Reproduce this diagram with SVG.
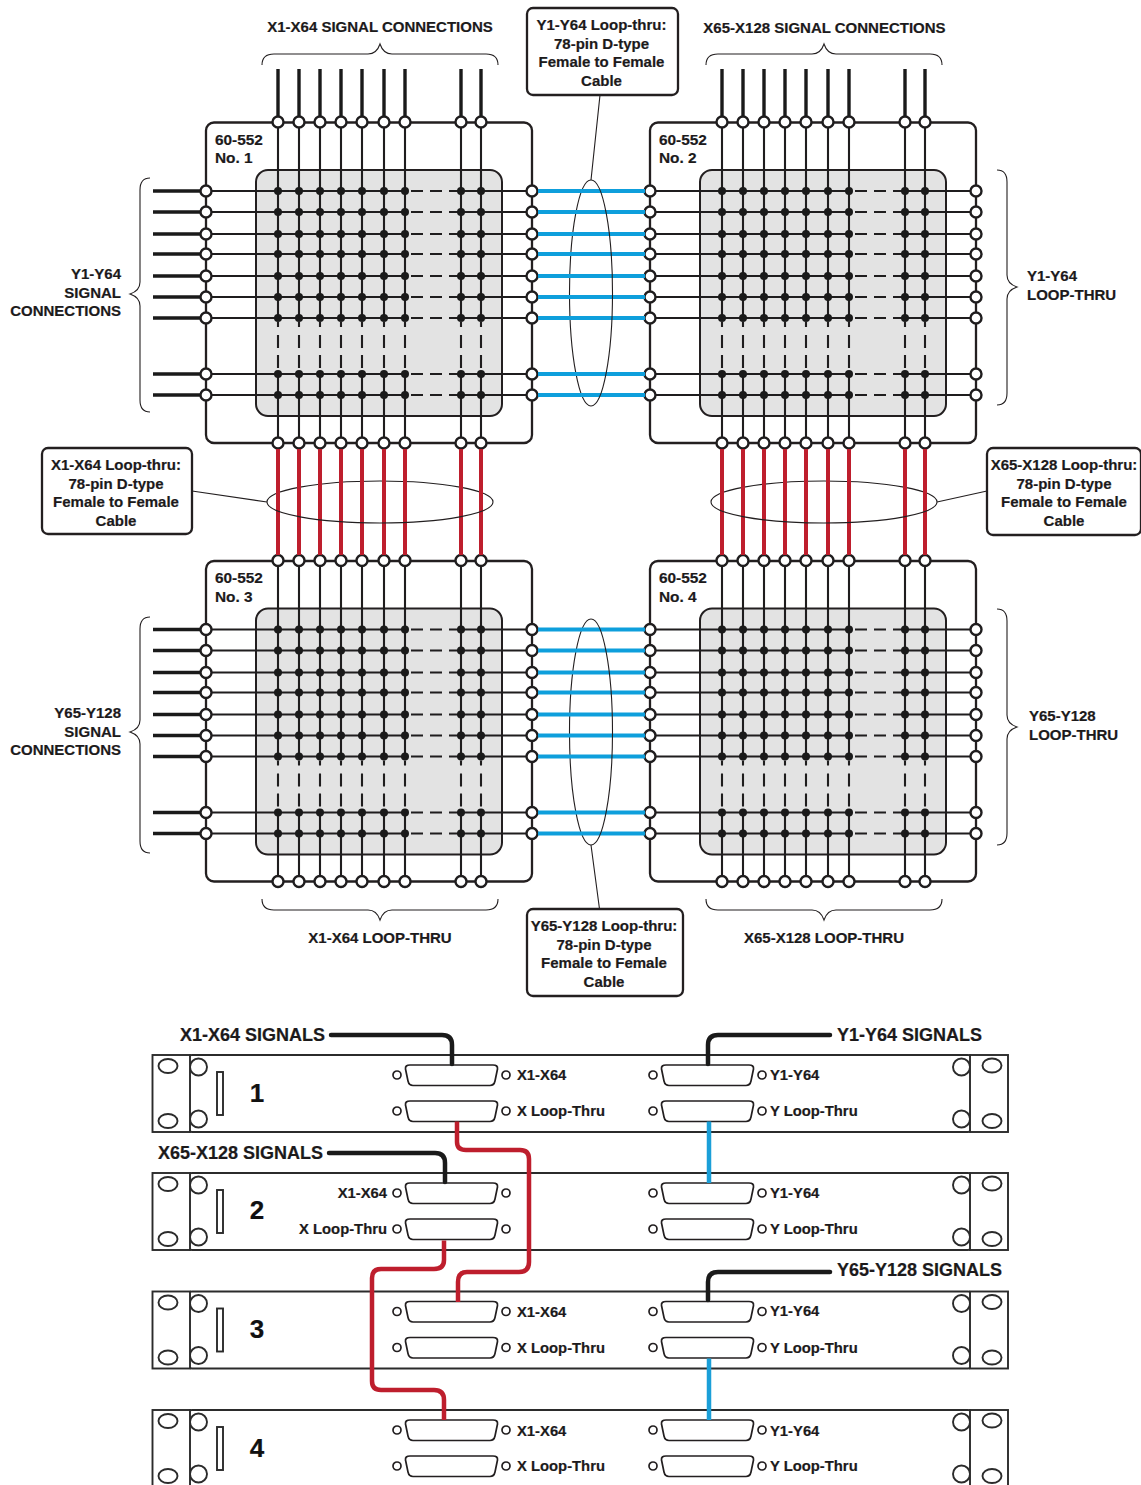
<svg xmlns="http://www.w3.org/2000/svg" width="1141" height="1485" viewBox="0 0 1141 1485">
<style>
text{font-family:"Liberation Sans",Arial,sans-serif;font-weight:700;fill:#1c1a1b;stroke:#1c1a1b;stroke-width:.2}
.t15{font-size:15px}
.p15{font-size:15.400px}
.t14{font-size:14.800px}
.t17{font-size:18px}
.num{font-size:26px;text-anchor:middle;fill:#111;stroke:#111}
.m{text-anchor:middle}
.e{text-anchor:end}
.frame{fill:none;stroke:#231f20;stroke-width:2.300}
.box{fill:#fff;stroke:#231f20;stroke-width:2.300}
.grey{fill:#e3e3e3;stroke:#231f20;stroke-width:2}
.wire{fill:none;stroke:#1f1d1e;stroke-width:2.100}
.dv{stroke-dasharray:5 8 13 7 13}
.dh{stroke-dasharray:12 7 12 7 12}
.dot{fill:#1a1a1a}
.pin{fill:#fff;stroke:#1f1d1e;stroke-width:2.400}
.stub{fill:none;stroke:#1a1a1a;stroke-width:3.400}
.blue{fill:none;stroke:#0e9fdc;stroke-width:3.800}
.red{fill:none;stroke:#be1e2d;stroke-width:4}
.thin{fill:none;stroke:#231f20;stroke-width:1.100}
.rk{fill:#fff;stroke:#2b2b2b;stroke-width:1.900}
.cb{fill:none;stroke-width:4.500}
.hole{fill:#fff;stroke:#231f20;stroke-width:1.700}
</style>
<defs>
<g id="dots"><circle class="dot" cx="278" cy="0" r="4"/><circle class="dot" cx="299" cy="0" r="4"/><circle class="dot" cx="320" cy="0" r="4"/><circle class="dot" cx="341" cy="0" r="4"/><circle class="dot" cx="362" cy="0" r="4"/><circle class="dot" cx="384" cy="0" r="4"/><circle class="dot" cx="405" cy="0" r="4"/><circle class="dot" cx="461" cy="0" r="4"/><circle class="dot" cx="481" cy="0" r="4"/></g>
<g id="pinsH"><circle class="pin" cx="278" cy="0" r="5.500"/><circle class="pin" cx="299" cy="0" r="5.500"/><circle class="pin" cx="320" cy="0" r="5.500"/><circle class="pin" cx="341" cy="0" r="5.500"/><circle class="pin" cx="362" cy="0" r="5.500"/><circle class="pin" cx="384" cy="0" r="5.500"/><circle class="pin" cx="405" cy="0" r="5.500"/><circle class="pin" cx="461" cy="0" r="5.500"/><circle class="pin" cx="481" cy="0" r="5.500"/></g>
<g id="pinsV"><circle class="pin" cx="0" cy="191" r="5.500"/><circle class="pin" cx="0" cy="212" r="5.500"/><circle class="pin" cx="0" cy="234" r="5.500"/><circle class="pin" cx="0" cy="254" r="5.500"/><circle class="pin" cx="0" cy="276" r="5.500"/><circle class="pin" cx="0" cy="297" r="5.500"/><circle class="pin" cx="0" cy="318" r="5.500"/><circle class="pin" cx="0" cy="374" r="5.500"/><circle class="pin" cx="0" cy="395" r="5.500"/></g>
<g id="panel">
<rect class="frame" x="206" y="122.500" width="326" height="320.500" rx="8"/>
<rect class="grey" x="256" y="170" width="246" height="246" rx="12"/>
<path class="wire" d="M278 122V318M299 122V318M320 122V318M341 122V318M362 122V318M384 122V318M405 122V318M461 122V318M481 122V318M278 374V443M299 374V443M320 374V443M341 374V443M362 374V443M384 374V443M405 374V443M461 374V443M481 374V443"/>
<path class="wire" d="M206 191H405M206 212H405M206 234H405M206 254H405M206 276H405M206 297H405M206 318H405M206 374H405M206 395H405M461 191H532M461 212H532M461 234H532M461 254H532M461 276H532M461 297H532M461 318H532M461 374H532M461 395H532"/>
<path class="wire dv" d="M278 322V368M299 322V368M320 322V368M341 322V368M362 322V368M384 322V368M405 322V368M461 322V368M481 322V368"/>
<path class="wire dh" d="M411 191H461M411 212H461M411 234H461M411 254H461M411 276H461M411 297H461M411 318H461M411 374H461M411 395H461"/>
<use href="#dots" y="191"/><use href="#dots" y="212"/><use href="#dots" y="234"/><use href="#dots" y="254"/><use href="#dots" y="276"/><use href="#dots" y="297"/><use href="#dots" y="318"/><use href="#dots" y="374"/><use href="#dots" y="395"/>
<use href="#pinsH" y="122"/><use href="#pinsH" y="443"/>
<use href="#pinsV" x="206"/><use href="#pinsV" x="532"/>
</g>
<path id="stubsTop" class="stub" d="M278 69V116M299 69V116M320 69V116M341 69V116M362 69V116M384 69V116M405 69V116M461 69V116M481 69V116"/>
<path id="stubsLeft" class="stub" d="M153 191H200M153 212H200M153 234H200M153 254H200M153 276H200M153 297H200M153 318H200M153 374H200M153 395H200"/>
<path id="blueRun" class="blue" d="M538 191H645M538 212H645M538 234H645M538 254H645M538 276H645M538 297H645M538 318H645M538 374H645M538 395H645"/>
<path id="redRun" class="red" d="M278 449V555M299 449V555M320 449V555M341 449V555M362 449V555M384 449V555M405 449V555M461 449V555M481 449V555"/>
<g id="rack">
<rect class="rk" x="186" y="0" width="788" height="77" rx="6"/>
<circle class="rk" cx="198.500" cy="12" r="8.500"/><circle class="rk" cx="198.500" cy="64" r="8.500"/>
<circle class="rk" cx="961.500" cy="12" r="8.500"/><circle class="rk" cx="961.500" cy="64" r="8.500"/>
<rect class="rk" x="152.500" y="0" width="37.500" height="77"/><rect class="rk" x="970" y="0" width="38" height="77"/>
<ellipse class="rk" cx="168" cy="11" rx="9.500" ry="7"/><ellipse class="rk" cx="168" cy="66" rx="9.500" ry="7"/>
<ellipse class="rk" cx="992" cy="10.500" rx="9.500" ry="7"/><ellipse class="rk" cx="992" cy="66" rx="9.500" ry="7"/>
<rect class="rk" x="217" y="17" width="6" height="43"/>
</g>
<g id="dsub">
<path class="hole" d="M410 0H493Q498 0 497.500 4L495 16Q494 20.500 490 20.500H413Q409 20.500 408 16L405.500 4Q405 0 410 0Z"/>
<circle class="hole" cx="397" cy="10" r="4"/><circle class="hole" cx="506" cy="10" r="4"/>
</g>
<g id="rackConn"><use href="#dsub" y="10"/><use href="#dsub" y="46"/><use href="#dsub" x="256" y="10"/><use href="#dsub" x="256" y="46"/></g>
</defs>

<g id="panel-1"><use href="#panel"/><text class="p15" x="215" y="145">60-552</text><text class="p15" x="215" y="163">No. 1</text></g>
<g id="panel-2"><use href="#panel" x="444"/><text class="p15" x="659" y="145">60-552</text><text class="p15" x="659" y="163">No. 2</text></g>
<g id="panel-3"><use href="#panel" y="438.500"/><text class="p15" x="215" y="583">60-552</text><text class="p15" x="215" y="602">No. 3</text></g>
<g id="panel-4"><use href="#panel" x="444" y="438.500"/><text class="p15" x="659" y="583">60-552</text><text class="p15" x="659" y="602">No. 4</text></g>

<g id="connectors">
<use href="#stubsTop"/><use href="#stubsTop" x="444"/>
<use href="#stubsLeft"/><use href="#stubsLeft" y="438.500"/>
<path class="thin" d="M591 180A21.500 113 0 0 0 591 406M591 619A21.500 113 0 0 0 591 845M380 481A113 21 0 0 0 267 502M380 481A113 21 0 0 1 493 502M824 481A113 21 0 0 0 711 502M824 481A113 21 0 0 1 937 502"/>
<use href="#blueRun"/><use href="#blueRun" y="438.500"/>
<use href="#redRun"/><use href="#redRun" x="444"/>
<path class="thin" d="M591 180A21.500 113 0 0 1 591 406M591 619A21.500 113 0 0 1 591 845M267 502A113 21 0 0 0 493 502M711 502A113 21 0 0 0 937 502"/>
<path class="thin" d="M600 95L591 180M192 491L267 502M987 491L937 502M591 845L599.500 909"/>
<path class="thin" d="M262 65C262 58 266 54 274 54H368C374 54 378 50 380 44C382 50 386 54 392 54H486C494 54 498 58 498 65"/>
<path class="thin" d="M706 65C706 58 710 54 718 54H812C818 54 822 50 824 44C826 50 830 54 836 54H930C938 54 942 58 942 65"/>
<path class="thin" d="M262 899C262 906 266 910 274 910H368C374 910 378 914 380 920C382 914 386 910 392 910H486C494 910 498 906 498 899"/>
<path class="thin" d="M706 899C706 906 710 910 718 910H812C818 910 822 914 824 920C826 914 830 910 836 910H930C938 910 942 906 942 899"/>
<path class="thin" d="M150 178C144 178 140 182 140 190V282C140 288 136 292 130 294C136 296 140 300 140 306V400C140 408 144 412 150 412"/>
<path class="thin" d="M150 617C144 617 140 621 140 629V720C140 726 136 730 130 732C136 734 140 738 140 744V841C140 849 144 853 150 853"/>
<path class="thin" d="M997 170C1003 170 1007 174 1007 182V275C1007 281 1011 285 1017 287C1011 289 1007 293 1007 299V393C1007 401 1003 405 997 405"/>
<path class="thin" d="M997 609C1003 609 1007 613 1007 621V715C1007 721 1011 725 1017 727C1011 729 1007 733 1007 739V833C1007 841 1003 845 997 845"/>
</g>

<g id="label-x1-signal"><text class="t15 m" x="380" y="32">X1-X64 SIGNAL CONNECTIONS</text></g>
<g id="label-x65-signal"><text class="t15 m" x="824.500" y="33">X65-X128 SIGNAL CONNECTIONS</text></g>
<g id="label-x1-loop"><text class="t15 m" x="380" y="943">X1-X64 LOOP-THRU</text></g>
<g id="label-x65-loop"><text class="t15 m" x="824" y="943">X65-X128 LOOP-THRU</text></g>
<g id="label-y1-signal"><text class="t15 e" x="121" y="279">Y1-Y64</text><text class="t15 e" x="121" y="298">SIGNAL</text><text class="t15 e" x="121" y="316">CONNECTIONS</text></g>
<g id="label-y65-signal"><text class="t15 e" x="121" y="718">Y65-Y128</text><text class="t15 e" x="121" y="737">SIGNAL</text><text class="t15 e" x="121" y="755">CONNECTIONS</text></g>
<g id="label-y1-loop"><text class="t15" x="1027" y="281">Y1-Y64</text><text class="t15" x="1027" y="300">LOOP-THRU</text></g>
<g id="label-y65-loop"><text class="t15" x="1029" y="721">Y65-Y128</text><text class="t15" x="1029" y="740">LOOP-THRU</text></g>

<g id="callout-y1"><rect class="box" x="527" y="8" width="151" height="87" rx="6"/><text class="t15 m" x="601.500" y="30">Y1-Y64 Loop-thru:</text><text class="t15 m" x="601.500" y="49">78-pin D-type</text><text class="t15 m" x="601.500" y="67">Female to Female</text><text class="t15 m" x="601.500" y="86">Cable</text></g>
<g id="callout-x1"><rect class="box" x="42" y="448" width="150" height="86" rx="6"/><text class="t15 m" x="116" y="470">X1-X64 Loop-thru:</text><text class="t15 m" x="116" y="489">78-pin D-type</text><text class="t15 m" x="116" y="507">Female to Female</text><text class="t15 m" x="116" y="526">Cable</text></g>
<g id="callout-x65"><rect class="box" x="987" y="448" width="154" height="87" rx="6"/><text class="t15 m" x="1064" y="470">X65-X128 Loop-thru:</text><text class="t15 m" x="1064" y="489">78-pin D-type</text><text class="t15 m" x="1064" y="507">Female to Female</text><text class="t15 m" x="1064" y="526">Cable</text></g>
<g id="callout-y65"><rect class="box" x="527" y="909" width="156" height="87" rx="6"/><text class="t15 m" x="604" y="931">Y65-Y128 Loop-thru:</text><text class="t15 m" x="604" y="950">78-pin D-type</text><text class="t15 m" x="604" y="968">Female to Female</text><text class="t15 m" x="604" y="987">Cable</text></g>

<g id="rack-1"><use href="#rack" y="1055"/><use href="#rackConn" y="1055"/><text class="num" x="257" y="1102">1</text>
<text class="t14" x="517" y="1080">X1-X64</text><text class="t14" x="517" y="1116">X Loop-Thru</text><text class="t14" x="770" y="1080">Y1-Y64</text><text class="t14" x="770" y="1116">Y Loop-Thru</text></g>
<g id="rack-2"><use href="#rack" y="1173"/><use href="#rackConn" y="1173"/><text class="num" x="257" y="1219">2</text>
<text class="t14 e" x="387" y="1198">X1-X64</text><text class="t14 e" x="387" y="1234">X Loop-Thru</text><text class="t14" x="770" y="1198">Y1-Y64</text><text class="t14" x="770" y="1234">Y Loop-Thru</text></g>
<g id="rack-3"><use href="#rack" y="1291.500"/><use href="#rackConn" y="1291.500"/><text class="num" x="257" y="1338">3</text>
<text class="t14" x="517" y="1317">X1-X64</text><text class="t14" x="517" y="1353">X Loop-Thru</text><text class="t14" x="770" y="1316">Y1-Y64</text><text class="t14" x="770" y="1353">Y Loop-Thru</text></g>
<g id="rack-4"><use href="#rack" y="1410"/><use href="#rackConn" y="1410"/><text class="num" x="257" y="1457">4</text>
<text class="t14" x="517" y="1436">X1-X64</text><text class="t14" x="517" y="1471">X Loop-Thru</text><text class="t14" x="770" y="1436">Y1-Y64</text><text class="t14" x="770" y="1471">Y Loop-Thru</text></g>

<g id="rack-cables">
<path class="cb" stroke="#1a1a1a" stroke-linecap="round" d="M331 1035H442Q452 1035 452 1045V1064"/>
<path class="cb" stroke="#1a1a1a" stroke-linecap="round" d="M830 1035H718Q708 1035 708 1045V1064"/>
<path class="cb" stroke="#1a1a1a" stroke-linecap="round" d="M329 1153H435Q445 1153 445 1163V1182"/>
<path class="cb" stroke="#1a1a1a" stroke-linecap="round" d="M830 1272H718Q708 1272 708 1282V1300"/>
<path class="cb" stroke="#be1e2d" d="M457 1121.500V1142Q457 1150 466 1150H520Q529 1150 529 1159V1262Q529 1272 519 1272H467Q458 1272 458 1282V1302"/>
<path class="cb" stroke="#be1e2d" d="M444 1240.500V1260Q444 1269 434 1269H381Q372 1269 372 1278V1381Q372 1390 381 1390H434Q444 1390 444 1400V1420"/>
<path class="cb" stroke="#1b9fd8" d="M709 1121.500V1183M709 1358.500V1420"/>
</g>
<text class="t17" x="180" y="1041">X1-X64 SIGNALS</text>
<text class="t17" x="837" y="1041">Y1-Y64 SIGNALS</text>
<text class="t17" x="158" y="1159">X65-X128 SIGNALS</text>
<text class="t17" x="837" y="1276">Y65-Y128 SIGNALS</text>
</svg>
